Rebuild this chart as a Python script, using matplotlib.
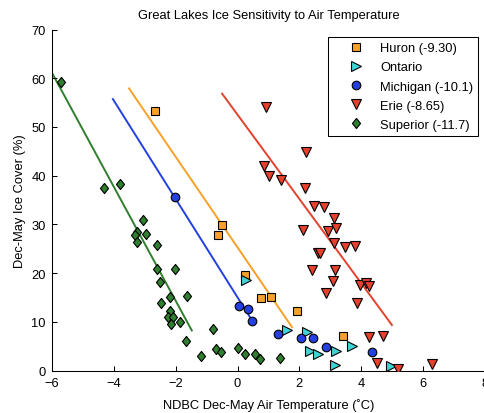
import matplotlib
matplotlib.use("Agg")
import matplotlib.pyplot as plt
import numpy as np

plt.rcParams['font.family'] = ['Liberation Sans', 'DejaVu Sans']

huron_x = [-2.68, -0.49, -0.62, 0.25, 0.77, 1.09, 1.93, 3.41]
huron_y = [53.3, 29.8, 27.8, 19.6, 14.8, 15.0, 12.2, 7.0]

ontario_x = [0.27, 1.59, 2.26, 2.34, 2.59, 3.18, 3.15, 3.69, 4.95]
ontario_y = [18.6, 8.4, 8.0, 4.0, 3.3, 4.0, 1.2, 5.1, 0.9]

michigan_x = [-2.03, 0.06, 0.33, 0.48, 1.32, 2.05, 2.45, 2.86, 4.35]
michigan_y = [35.6, 13.2, 12.6, 10.2, 7.4, 6.7, 6.7, 4.8, 3.7]

erie_x = [0.93, 2.22, 0.85, 1.03, 1.42, 2.19, 2.47, 2.78, 3.12, 2.12,
          2.92, 3.19, 3.11, 3.48, 3.80, 2.59, 2.67, 2.41, 3.15, 3.09,
          3.95, 4.15, 4.25, 2.85, 3.87, 4.25, 4.69, 4.51, 5.20, 6.28]
erie_y = [54.0, 44.9, 41.9, 40.0, 39.1, 37.5, 33.8, 33.5, 31.4, 28.9,
          28.6, 29.2, 26.1, 25.3, 25.5, 24.1, 24.1, 20.7, 20.7, 18.3,
          17.6, 17.9, 17.3, 15.9, 13.9, 6.8, 7.1, 1.5, 0.4, 1.3]

superior_x = [-5.72, -4.33, -3.81, -3.07, -3.25, -3.33, -2.96, -3.25, -2.62, -2.59,
              -2.01, -2.52, -2.49, -2.18, -1.62, -2.20, -2.25, -2.09, -2.14, -1.86,
              -1.68, -1.17, -0.81, -0.69, -0.55, 0.03, 0.24, 0.56, 0.73, 1.38]
superior_y = [59.2, 37.4, 38.3, 30.9, 28.4, 27.8, 28.0, 26.3, 25.8, 20.8,
              20.8, 18.2, 13.8, 15.0, 15.2, 12.2, 10.9, 11.0, 9.5, 9.9,
              6.0, 3.0, 8.5, 4.4, 3.7, 4.6, 3.3, 3.3, 2.4, 2.5]

# linear fits: slope, intercept, x range of the drawn line
fit_names = ["Huron", "Michigan", "Erie", "Superior"]
fit_slope = [-9.30, -10.1, -8.65, -11.7]
fit_intercept = [25.26, 15.0, 52.5, -9.1]
fit_x0 = [-3.51, -4.03, -0.50, -6.0]
fit_x1 = [1.76, 0.52, 4.99, -1.48]

colors = {
    "Huron": "#F7A128",
    "Ontario": "#3ED4D4",
    "Michigan": "#2440E0",
    "Erie": "#E5412C",
    "Superior": "#2F7F2F",
}

diamond = [(0, 1), (0.8, 0), (0, -1), (-0.8, 0), (0, 1)]

fig = plt.figure(figsize=(4.85, 4.14), dpi=100)
ax = fig.add_axes([52 / 485, 42.5 / 414, 433 / 485, 341 / 414])

for name, m, b, x0, x1 in zip(fit_names, fit_slope, fit_intercept, fit_x0, fit_x1):
    xx = np.array([x0, x1])
    ax.plot(xx, m * xx + b, color=colors[name], lw=1.4, zorder=1)

mk = dict(linestyle='none', markeredgecolor='black', markeredgewidth=0.8, zorder=3)
ax.plot(huron_x, huron_y, marker='s', ms=6, color=colors["Huron"], label="Huron (-9.30)", **mk)
ax.plot(ontario_x, ontario_y, marker='>', ms=7, color=colors["Ontario"], label="Ontario", **mk)
ax.plot(michigan_x, michigan_y, marker='o', ms=6.2, color=colors["Michigan"], label="Michigan (-10.1)", **mk)
ax.plot(erie_x, erie_y, marker='v', ms=7, color=colors["Erie"], label="Erie (-8.65)", **mk)
ax.plot(superior_x, superior_y, marker=diamond, ms=7.3, color=colors["Superior"], label="Superior (-11.7)", **mk)

ax.set_xlim(-6, 8)
ax.set_ylim(0, 70)
ax.set_xticks(np.arange(-6, 9, 2))
ax.set_yticks(np.arange(0, 71, 10))
ax.tick_params(direction='in', length=3.6, width=0.75, labelsize=9.3, pad=4.5)
for side in ['top', 'right']:
    ax.spines[side].set_visible(False)
for side in ['left', 'bottom']:
    ax.spines[side].set_linewidth(0.75)

ax.set_title("Great Lakes Ice Sensitivity to Air Temperature", fontsize=9.3, pad=8)
ax.set_xlabel("NDBC Dec-May Air Temperature (\u02daC)", fontsize=9.3, labelpad=7)
ax.set_ylabel("Dec-May Ice Cover (%)", fontsize=9.3, labelpad=4)

leg = ax.legend(loc='upper left', bbox_to_anchor=(0.637, 0.978), borderaxespad=0,
                fontsize=9.3, numpoints=1, fancybox=False, framealpha=1,
                edgecolor='black', borderpad=0.4, handlelength=3.6,
                handletextpad=0.05, labelspacing=0.55)
leg.get_frame().set_linewidth(0.75)

plt.savefig("out.png", dpi=100)
plt.close()
